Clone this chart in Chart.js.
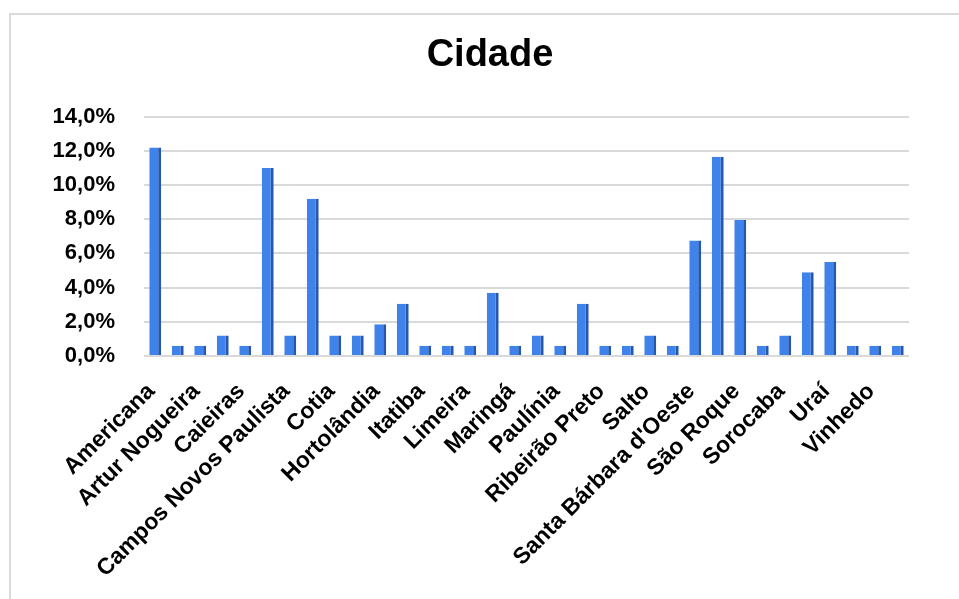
<!DOCTYPE html>
<html>
<head>
<meta charset="utf-8">
<script src="https://cdn.jsdelivr.net/npm/chart.js@4.4.1/dist/chart.umd.min.js"></script>
<style>
  html, body { margin: 0; padding: 0; background: #fff; overflow: hidden; }
  #frame {
    position: absolute; left: 9px; top: 13px; width: 980px; height: 620px;
    border-left: 2px solid #d9d9d9; border-top: 2px solid #d9d9d9;
  }
  #wrap { position: absolute; left: 0; top: 0; width: 959px; height: 599px; }
</style>
</head>
<body>
<div id="frame"></div>
<div id="wrap"><canvas id="chart"></canvas></div>
<script>
// cidades (só as posições pares têm rótulo visível no eixo)
const cidades = [
  'Americana', 'Amparo', 'Artur Nogueira', 'Atibaia', 'Caieiras', 'Campinas',
  'Campos Novos Paulista', 'Cosmópolis', 'Cotia', 'Engenheiro Coelho', 'Hortolândia', 'Indaiatuba',
  'Itatiba', 'Jundiaí', 'Limeira', 'Louveira', 'Maringá', 'Nova Odessa',
  'Paulínia', 'Piracicaba', 'Ribeirão Preto', 'Rio Claro', 'Salto', 'Santa Adélia',
  "Santa Bárbara d'Oeste", 'São Paulo', 'São Roque', 'Sertãozinho', 'Sorocaba', 'Sumaré',
  'Uraí', 'Valinhos', 'Vinhedo', 'Votorantim'
];

// percentuais
const percentuais = [
  12.2, 0.6, 0.6, 1.2, 0.6, 11.0,
  1.2, 9.2, 1.2, 1.2, 1.85, 3.05,
  0.6, 0.6, 0.6, 3.7, 0.6, 1.2,
  0.6, 3.05, 0.6, 0.6, 1.2, 0.6,
  6.75, 11.65, 7.95, 0.6, 1.2, 4.9,
  5.5, 0.6, 0.6, 0.6
];

const yMin = 0, yMax = 14, yPasso = 2;

const fonte = 'Liberation Sans, Arial';

const ctx = document.getElementById('chart').getContext('2d');
new Chart(ctx, {
  type: 'bar',
  data: {
    labels: cidades,
    datasets: [{
      data: percentuais,
      backgroundColor: '#3f82ea',
      borderColor: '#2557ad',
      borderWidth: { top: 0, left: 0, right: 3, bottom: 0 },
      borderSkipped: false,
      barPercentage: 0.53,
      categoryPercentage: 1
    }]
  },
  options: {
    responsive: true,
    maintainAspectRatio: false,
    animation: false,
    layout: { padding: { left: 22, right: 1, top: 14, bottom: 0 } },
    plugins: {
      legend: { display: false },
      tooltip: { enabled: false },
      title: {
        display: true,
        text: 'Cidade',
        color: '#000',
        font: { family: fonte, size: 38, weight: 'bold' },
        padding: { top: 19, bottom: 38 }
      }
    },
    scales: {
      x: {
        offset: true,
        grid: { display: false },
        border: { display: false },
        ticks: {
          autoSkip: false,
          maxRotation: 45,
          minRotation: 45,
          padding: 14,
          labelOffset: -4,
          color: '#000',
          font: { family: fonte, size: 23, weight: 'bold' },
          callback: function (v, i) { return i % 2 === 0 ? this.getLabelForValue(v) : ''; }
        },
        afterFit: s => { s.height = 243; }
      },
      y: {
        min: yMin,
        max: yMax,
        grid: { color: '#d9d9d9', lineWidth: 2, drawTicks: false },
        border: { display: false },
        ticks: {
          stepSize: yPasso,
          padding: 29,
          color: '#000',
          font: { family: fonte, size: 22, weight: 'bold' },
          callback: v => v.toFixed(1).replace('.', ',') + '%'
        },
        afterFit: s => { s.width = 122; }
      },
      // eixo vazio à direita só para reservar a margem
      yDir: {
        position: 'right',
        display: true,
        grid: { display: false },
        border: { display: false },
        ticks: { display: false },
        afterFit: s => { s.width = 49; }
      }
    }
  }
});
</script>
</body>
</html>
